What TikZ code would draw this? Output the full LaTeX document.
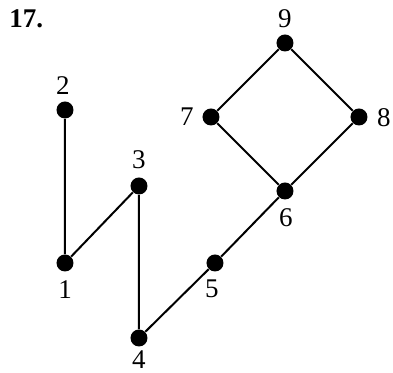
\documentclass[tikz,border=0pt]{standalone}
\usepackage{fontspec}
\setmainfont{Liberation Serif}
\begin{document}
\begin{tikzpicture}[x=0.5pt,y=-0.5pt,
  dot/.style={circle,fill=black,inner sep=0pt,minimum size=8.5pt},
  lbl/.style={font=\fontsize{13.5}{15}\selectfont,inner sep=0pt},
  edge/.style={line width=1pt}]
\useasboundingbox (0,0) rectangle (393,373);
\node[font=\fontsize{13.5}{15}\selectfont\bfseries,anchor=west,inner sep=0pt] (title) at (9,19) {17.};
\node[dot] (n1) at (65,263) {};
\node[dot] (n2) at (65,110) {};
\node[dot] (n3) at (139,186) {};
\node[dot] (n4) at (139,338) {};
\node[dot] (n5) at (215,263) {};
\node[dot] (n6) at (285,191) {};
\node[dot] (n7) at (211,117) {};
\node[dot] (n8) at (359,117) {};
\node[dot] (n9) at (285,43) {};
\node[lbl] (l1) at (65,290) {1};
\node[lbl] (l2) at (63,86) {2};
\node[lbl] (l3) at (139,160) {3};
\node[lbl] (l4) at (139,360) {4};
\node[lbl] (l5) at (212,289) {5};
\node[lbl] (l6) at (286,218) {6};
\node[lbl] (l7) at (187,117) {7};
\node[lbl] (l8) at (384,118) {8};
\node[lbl] (l9) at (285,19) {9};
\draw[edge] (n2) -- (n1) -- (n3) -- (n4) -- (n5) -- (n6) -- (n7) -- (n9) -- (n8) -- (n6);
\end{tikzpicture}
\end{document}
